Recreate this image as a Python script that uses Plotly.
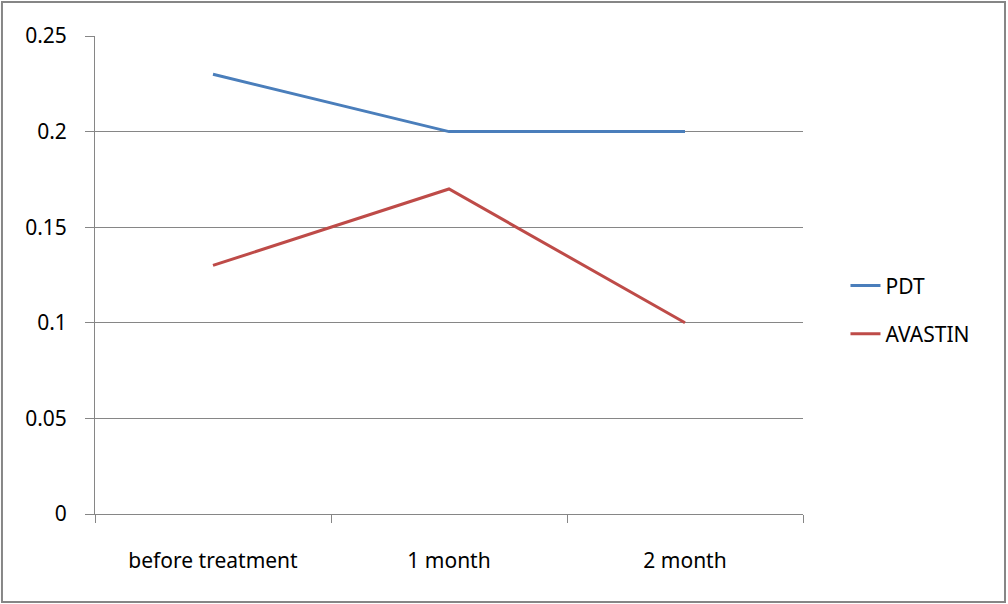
import plotly.graph_objects as go

categories = ["before treatment", "1 month", "2 month"]
pdt = [0.23, 0.20, 0.20]
avastin = [0.13, 0.17, 0.10]
y_ticks = [0, 0.05, 0.1, 0.15, 0.2, 0.25]

axis_gray = "#868686"
font = dict(family="Noto Sans, DejaVu Sans, sans-serif", size=21, color="#000000")

fig = go.Figure()
fig.add_trace(go.Scatter(x=categories, y=pdt, mode="lines", name="PDT",
                         line=dict(color="#4A7EBB", width=3), legendgroup="a"))
fig.add_trace(go.Scatter(x=categories, y=avastin, mode="lines", name="AVASTIN",
                         line=dict(color="#BE4B48", width=3), legendgroup="b"))

fig.update_layout(
    width=1008, height=604,
    margin=dict(l=95, r=205, t=36, b=90),
    paper_bgcolor="white", plot_bgcolor="white",
    font=font,
    showlegend=True,
    legend=dict(x=1.06, y=0.427, xanchor="left", yanchor="middle",
                traceorder="grouped", tracegroupgap=18,
                font=dict(size=21), bgcolor="rgba(0,0,0,0)"),
    xaxis=dict(type="category", tickson="boundaries", showgrid=False,
               range=[-0.5, 2.5],
               showline=True, linecolor=axis_gray, linewidth=1,
               ticks="outside", ticklen=8, tickcolor=axis_gray,
               ticklabelstandoff=28, zeroline=False),
    yaxis=dict(range=[0, 0.25], tickvals=y_ticks,
               ticktext=[f"{v:g}" for v in y_ticks],
               showgrid=True, gridcolor=axis_gray, gridwidth=1,
               showline=True, linecolor=axis_gray, linewidth=1,
               ticks="outside", ticklen=9, tickcolor=axis_gray,
               ticklabelstandoff=14, zeroline=False),
)

fig.add_shape(type="rect", xref="paper", yref="paper",
              x0=-0.1314, x1=1.2853, y0=-0.184, y1=1.0711,
              line=dict(color=axis_gray, width=2), layer="below")

fig.write_html("out.html")
